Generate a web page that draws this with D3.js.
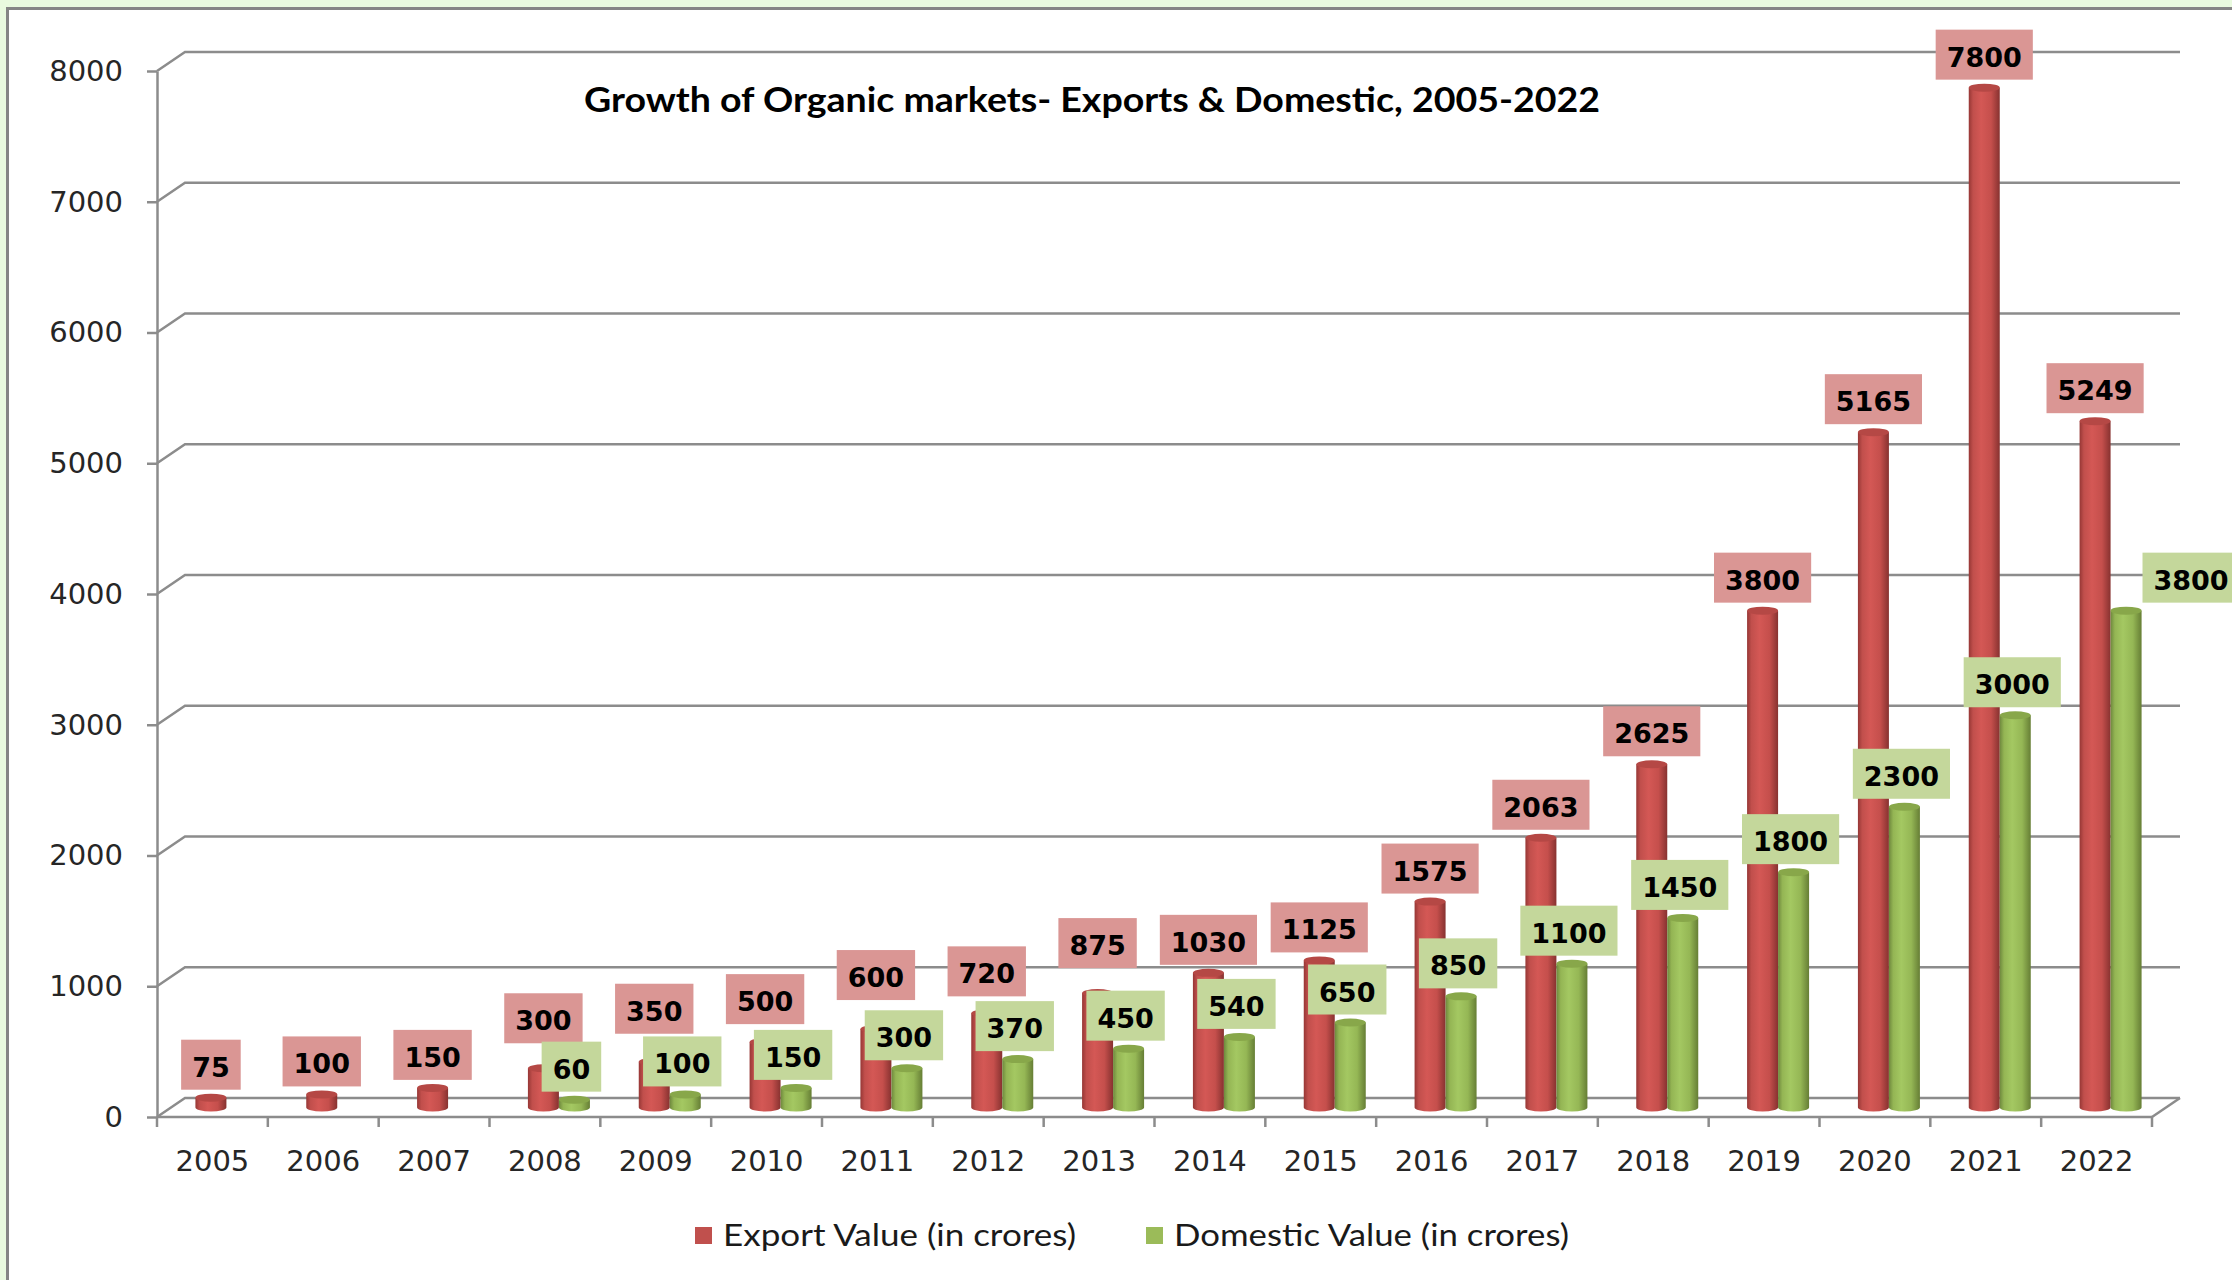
<!DOCTYPE html>
<html>
<head>
<meta charset="utf-8">
<script src="https://cdn.jsdelivr.net/npm/d3@7"></script>
<style>
  body{margin:0;background:#fff;}
  svg{display:block;}
</style>
</head>
<body>
<svg id="chart"></svg>
<script>
// chart values
const years=[2005,2006,2007,2008,2009,2010,2011,2012,2013,2014,2015,2016,2017,2018,2019,2020,2021,2022];
const exportValues=[75,100,150,300,350,500,600,720,875,1030,1125,1575,2063,2625,3800,5165,7800,5249];
const domesticValues=[null,null,null,60,100,150,300,370,450,540,650,850,1100,1450,1800,2300,3000,3800];
const yTicks=[0,1000,2000,3000,4000,5000,6000,7000,8000];
const seriesNames=["Export Value (in crores)","Domestic Value (in crores)"];
const titleText="Growth of Organic markets- Exports & Domestic, 2005-2022";

const width=2232, height=1280;
const plot={left:157,right:2152,top:71,bottom:1117};
const depth={dx:28,dy:-19};   // offset of the back wall
const barW=31, capRy=4;

const svg=d3.select("#chart").attr("width",width).attr("height",height);

// background + frame
svg.append("rect").attr("width",width).attr("height",height).attr("fill","#e9fadf");
svg.append("rect")
  .attr("x",7.5).attr("y",8.5)
  .attr("width",width+20).attr("height",height+20)
  .attr("fill","#fff").attr("stroke","#858585").attr("stroke-width",3);

const xScale=d3.scaleBand().domain(years).range([plot.left,plot.right]);
const yScale=d3.scaleLinear().domain([0,8000]).range([plot.bottom,plot.top]);
const inner=d3.scaleBand().domain(["export","domestic"]).range([-barW,barW]);

const defs=svg.append("defs");
function cylGrad(id,stops){
  const g=defs.append("linearGradient").attr("id",id)
    .attr("x1","0%").attr("x2","100%").attr("y1","0%").attr("y2","0%");
  stops.forEach(s=>g.append("stop").attr("offset",s[0]).attr("stop-color",s[1]));
}
cylGrad("gRed",[["0%","#963735"],["14%","#c14f4c"],["40%","#d45855"],["72%","#c54f4c"],["100%","#873230"]]);
cylGrad("gGreen",[["0%","#6e883d"],["14%","#94b554"],["40%","#a4c862"],["72%","#95b755"],["100%","#667e35"]]);

const gridColor="#8c8c8c";
const grid=svg.append("g").attr("stroke",gridColor).attr("stroke-width",2.5).attr("fill","none");

// back wall gridlines + left wall diagonals
yTicks.forEach(t=>{
  const yy=yScale(t);
  grid.append("path").attr("d",
    `M${plot.left},${yy}L${plot.left+depth.dx},${yy+depth.dy}L${plot.right+depth.dx},${yy+depth.dy}`);
});
// floor front-right diagonal
grid.append("path").attr("d",
  `M${plot.right},${plot.bottom}L${plot.right+depth.dx},${plot.bottom+depth.dy}`);

// y axis
const yAxis=svg.append("g")
  .attr("transform",`translate(${plot.left},0)`)
  .call(d3.axisLeft(yScale).tickValues(yTicks).tickFormat(d3.format("d"))
    .tickSize(10).tickSizeOuter(0).tickPadding(24));
yAxis.select(".domain").attr("stroke",gridColor).attr("stroke-width",2.5);
yAxis.selectAll(".tick line").attr("stroke",gridColor).attr("stroke-width",2.5);
yAxis.selectAll(".tick text")
  .attr("font-family","DejaVu Sans").attr("font-size",29).attr("fill","#262626");

// x axis: labels at centers, ticks at band boundaries
const xAxis=svg.append("g")
  .attr("transform",`translate(0,${plot.bottom})`)
  .call(d3.axisBottom(xScale).tickSize(0).tickPadding(33));
xAxis.select(".domain").remove();
xAxis.selectAll(".tick text")
  .attr("font-family","DejaVu Sans").attr("font-size",29).attr("fill","#262626");
svg.append("line")
  .attr("x1",plot.left).attr("x2",plot.right)
  .attr("y1",plot.bottom).attr("y2",plot.bottom)
  .attr("stroke",gridColor).attr("stroke-width",2.5);
const bounds=years.map(d=>xScale(d)).concat([xScale(years[years.length-1])+xScale.step()]);
svg.append("g").selectAll("line").data(bounds).enter().append("line")
  .attr("x1",d=>d).attr("x2",d=>d)
  .attr("y1",plot.bottom).attr("y2",plot.bottom+10)
  .attr("stroke",gridColor).attr("stroke-width",2.5);

// bar data
const bars=[];
years.forEach((yr,i)=>{
  bars.push({year:yr,key:"export",value:exportValues[i]});
  if(domesticValues[i]!=null) bars.push({year:yr,key:"domestic",value:domesticValues[i]});
});
const barCx=d=>xScale(d.year)+xScale.bandwidth()/2+depth.dx/2+inner(d.key)+barW/2;
const barTop=d=>yScale(d.value)+depth.dy/2;
const barBottom=()=>yScale(0)+depth.dy/2;

const barG=svg.append("g");
bars.forEach(d=>{
  const cx=barCx(d), t=barTop(d), b=barBottom(), r=barW/2;
  const g=barG.append("g");
  g.append("path")
    .attr("d",`M${cx-r},${t}L${cx-r},${b}A${r},${capRy} 0 0 0 ${cx+r},${b}L${cx+r},${t}Z`)
    .attr("fill",d.key==="export"?"url(#gRed)":"url(#gGreen)");
  g.append("ellipse")
    .attr("cx",cx).attr("cy",t).attr("rx",r).attr("ry",capRy)
    .attr("fill",d.key==="export"?"#b54845":"#88a74a");
});

// data labels (a few were dragged by hand in the original)
const labelNudge={
  "domestic-2022":[68,0],
  "export-2008":[0,-17],"export-2009":[0,-20],"export-2010":[0,-10],
  "export-2011":[0,-21],"export-2012":[0,-9],"export-2013":[0,-17]
};
const labelG=svg.append("g");
bars.forEach(d=>{
  const n=labelNudge[d.key+"-"+d.year]||[0,0];
  const cx=barCx(d)+(d.key==="domestic"?-3:0)+n[0];
  const boxBottom=barTop(d)-capRy-4+n[1];
  const g=labelG.append("g");
  const rect=g.append("rect").attr("fill",d.key==="export"?"#da9694":"#c4d79b");
  const txt=g.append("text")
    .attr("x",cx).attr("y",boxBottom-25+12)
    .attr("text-anchor","middle")
    .attr("font-family","DejaVu Sans").attr("font-weight","bold").attr("font-size",27)
    .attr("fill","#000").text(d.value);
  const w=txt.node().getComputedTextLength()+22;
  rect.attr("x",cx-w/2).attr("y",boxBottom-50).attr("width",w).attr("height",50);
});

// title
svg.append("text")
  .attr("x",1092).attr("y",112)
  .attr("text-anchor","middle")
  .attr("font-family","Lato").attr("font-weight","bold").attr("font-size",34)
  .attr("textLength",1016).attr("lengthAdjust","spacingAndGlyphs")
  .attr("fill","#000").text(titleText);

// legend
const legendWidths=[353,395];
const legend=svg.append("g");
let lx=695;
seriesNames.forEach((name,i)=>{
  legend.append("rect").attr("x",lx).attr("y",1227).attr("width",17).attr("height",17)
    .attr("fill",i===0?"#c0504d":"#9bbb59");
  legend.append("text").attr("x",lx+28).attr("y",1246)
    .attr("font-family","Lato").attr("font-size",31)
    .attr("textLength",legendWidths[i]).attr("lengthAdjust","spacingAndGlyphs")
    .attr("fill","#1a1a1a").text(name);
  lx=lx+28+legendWidths[i]+70;
});
</script>
</body>
</html>
